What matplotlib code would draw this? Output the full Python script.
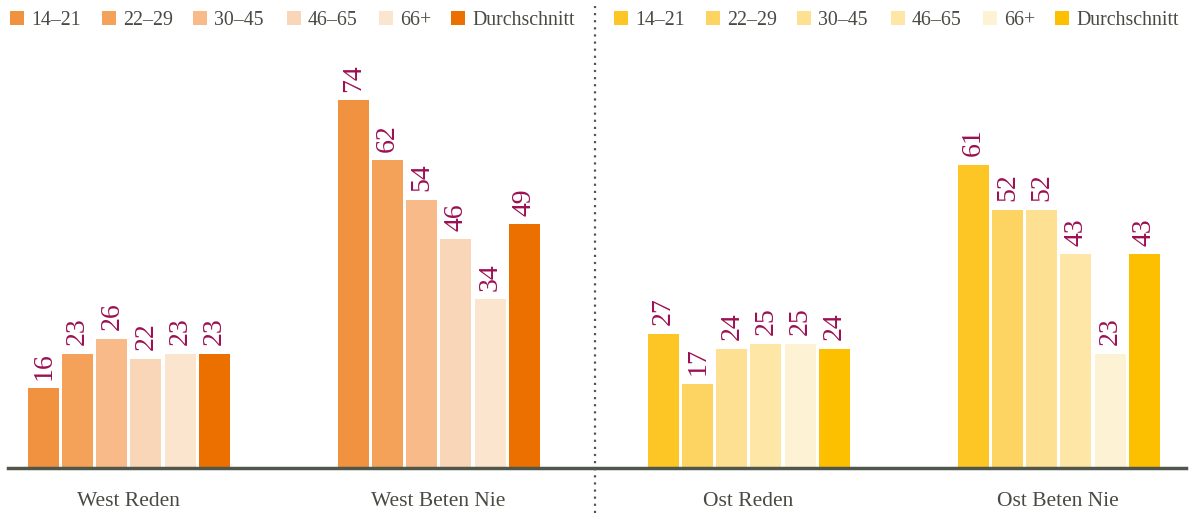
import matplotlib.pyplot as plt
from matplotlib.patches import Rectangle
from matplotlib.lines import Line2D
import numpy as np

categories = ["West Reden", "West Beten Nie", "Ost Reden", "Ost Beten Nie"]
series = ["14–21", "22–29", "30–45", "46–65", "66+", "Durchschnitt"]
values = {
    "14–21":        [16, 74, 27, 61],
    "22–29":        [23, 62, 17, 52],
    "30–45":        [26, 54, 24, 52],
    "46–65":        [22, 46, 25, 43],
    "66+":          [23, 34, 25, 23],
    "Durchschnitt": [23, 49, 24, 43],
}
west_colors = ["#F0923F", "#F4A259", "#F7BA88", "#FAD6B8", "#FCE5CE", "#EC7000"]
ost_colors = ["#FDC624", "#FDD462", "#FDE092", "#FDE6A6", "#FEF2D5", "#FDC000"]

plt.rcParams['font.family'] = ['Liberation Serif', 'DejaVu Serif']

W, H = 1194, 513
fig = plt.figure(figsize=(W/100, H/100), dpi=100)
ax = fig.add_axes([8/W, 45/H, 1178/W, 420/H])

x = np.arange(len(categories))
w = 0.1
pitch = 0.11
label_color = "#9B1052"
for i, s in enumerate(series):
    vals = values[s]
    cols = [west_colors[i] if c.startswith("West") else ost_colors[i] for c in categories]
    pos = x + (i - 2.5) * pitch + 0.003
    ax.bar(pos, vals, width=w, color=cols, zorder=2)
    for p, v in zip(pos, vals):
        ax.annotate(str(v), (p, v), xytext=(0, 6), textcoords="offset points",
                    rotation=90, ha="center", va="bottom", fontsize=20, color=label_color)

ax.set_xlim(-0.387, 3.413)
ax.set_ylim(0, 420/4.97)
ax.set_xticks(x)
ax.set_xticklabels(categories, fontsize=15.5, color="#4a4a44")
ax.tick_params(axis='x', length=0, pad=17)
ax.set_yticks([])
for sp in ["top", "right", "left"]:
    ax.spines[sp].set_visible(False)
ax.spines["bottom"].set_color("#50564a")
ax.spines["bottom"].set_linewidth(2.5)

# dotted divider
fig.add_artist(Line2D([595/W, 595/W], [0, 1 - 6/H], transform=fig.transFigure,
                      color="#555555", linestyle=(0, (1, 2.2)), linewidth=1.6))

# legends (manually laid out)
swatch_x = [10, 102, 193, 287, 379, 451]
for off, colors in ((0, west_colors), (604, ost_colors)):
    for sx, lab, c in zip(swatch_x, series, colors):
        fig.add_artist(Rectangle(((sx + off)/W, 1 - 25/H), 14/W, 14/H,
                                 transform=fig.transFigure, facecolor=c, edgecolor='none'))
        fig.text((sx + off + 21)/W, 1 - 20.5/H, lab, fontsize=14.3, color="#4a4a44",
                 ha="left", va="center")

fig.savefig("out.png", dpi=100)
